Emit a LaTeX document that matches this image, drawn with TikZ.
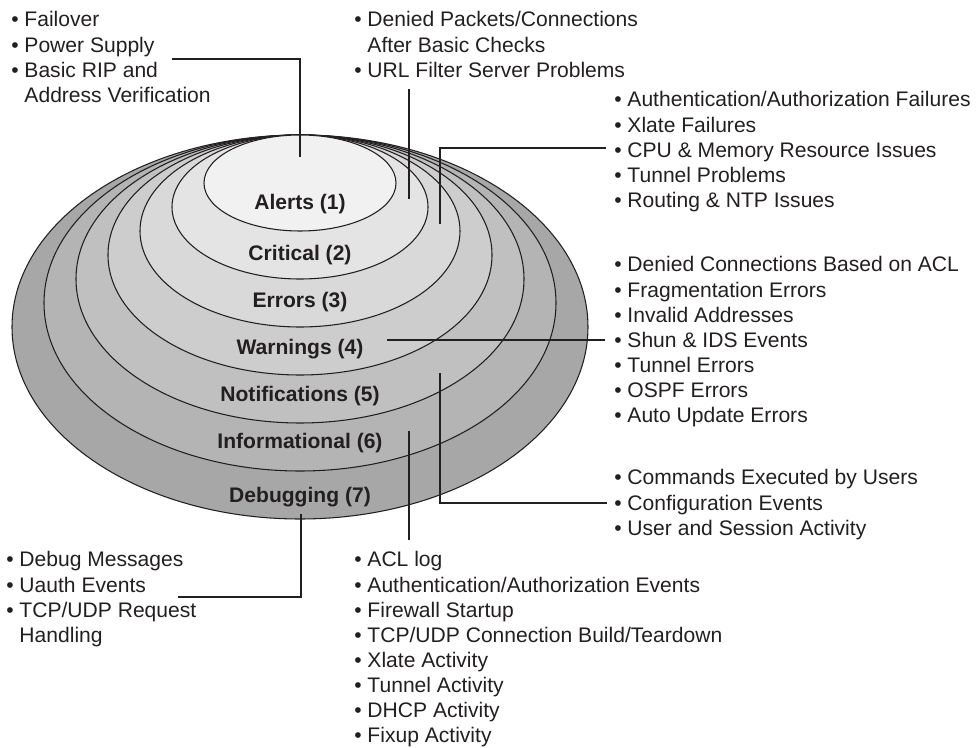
\documentclass[tikz,border=0pt]{standalone}
\usepackage{fontspec}
\setmainfont{Liberation Sans}
\definecolor{txt}{HTML}{231F20}
\definecolor{f1}{HTML}{F1F1F1}
\definecolor{f2}{HTML}{E4E4E4}
\definecolor{f3}{HTML}{D9D9D9}
\definecolor{f4}{HTML}{CDCDCD}
\definecolor{f5}{HTML}{C0C0C0}
\definecolor{f6}{HTML}{B4B4B4}
\definecolor{f7}{HTML}{A7A7A7}
\newcommand\itemfont{\fontsize{15.8}{18.8}\selectfont}
\newcommand\lvlfont{\fontsize{15.8}{18.8}\selectfont\bfseries}
\tikzset{
  item/.style={anchor=base west, inner sep=0pt, font=\itemfont, text=txt},
  lvl/.style={anchor=base, inner sep=0pt, font=\lvlfont, text=txt},
  ring/.style={draw=txt, line width=0.8pt},
  lead/.style={draw=txt, line width=1pt},
}
\begin{document}
\begin{tikzpicture}[x=0.75pt,y=-0.75pt]
\useasboundingbox (0,0) rectangle (976,748);
% rings, outer to inner
\foreach \k/\c in {6/f7,5/f6,4/f5,3/f4,2/f3,1/f2,0/f1}{
  \pgfmathsetmacro\cy{183+24*\k}
  \pgfmathsetmacro\rx{96+32*\k}
  \pgfmathsetmacro\ry{48+24*\k}
  \draw[ring, fill=\c] (300,\cy) ellipse [x radius=\rx, y radius=\ry];
}
% level labels
\node[lvl] (l1) at (300,210) {Alerts (1)};
\node[lvl] (l2) at (300,261) {Critical (2)};
\node[lvl] (l3) at (300,308) {Errors (3)};
\node[lvl] (l4) at (300,355) {Warnings (4)};
\node[lvl] (l5) at (300,402) {Notifications (5)};
\node[lvl] (l6) at (300,449) {Informational (6)};
\node[lvl] (l7) at (300,503) {Debugging (7)};
% item groups
\node[item] (gA) at (11,27) {\begin{tabular}[t]{@{}l@{}}• Failover\\• Power Supply\\• Basic RIP and\\\phantom{• }Address Verification\end{tabular}};
\node[item] (gB) at (354,27) {\begin{tabular}[t]{@{}l@{}}• Denied Packets/Connections\\\phantom{• }After Basic Checks\\• URL Filter Server Problems\end{tabular}};
\node[item] (gC) at (614,107) {\begin{tabular}[t]{@{}l@{}}• Authentication/Authorization Failures\\• Xlate Failures\\• CPU \& Memory Resource Issues\\• Tunnel Problems\\• Routing \& NTP Issues\end{tabular}};
\node[item] (gD) at (614,272) {\begin{tabular}[t]{@{}l@{}}• Denied Connections Based on ACL\\• Fragmentation Errors\\• Invalid Addresses\\• Shun \& IDS Events\\• Tunnel Errors\\• OSPF Errors\\• Auto Update Errors\end{tabular}};
\node[item] (gE) at (614,485) {\begin{tabular}[t]{@{}l@{}}• Commands Executed by Users\\• Configuration Events\\• User and Session Activity\end{tabular}};
\node[item] (gF) at (354,567) {\begin{tabular}[t]{@{}l@{}}• ACL log\\• Authentication/Authorization Events\\• Firewall Startup\\• TCP/UDP Connection Build/Teardown\\• Xlate Activity\\• Tunnel Activity\\• DHCP Activity\\• Fixup Activity\end{tabular}};
\node[item] (gG) at (6,567) {\begin{tabular}[t]{@{}l@{}}• Debug Messages\\• Uauth Events\\• TCP/UDP Request\\\phantom{• }Handling\end{tabular}};
% connector ends
\coordinate (aS) at (172,59);  \coordinate (aT) at (300,157);
\coordinate (bS) at (409,89);  \coordinate (bT) at (409,199);
\coordinate (cS) at (606,148); \coordinate (cT) at (440,224);
\coordinate (dS) at (605,340); \coordinate (dT) at (387,340);
\coordinate (eS) at (607,503); \coordinate (eT) at (440,373);
\coordinate (fS) at (409,540); \coordinate (fT) at (409,431);
\coordinate (gS) at (178,597); \coordinate (gT) at (301,514);
\draw[lead] (aS) -| (aT);
\draw[lead] (bS) -- (bT);
\draw[lead] (cS) -| (cT);
\draw[lead] (dS) -- (dT);
\draw[lead] (eS) -| (eT);
\draw[lead] (fS) -- (fT);
\draw[lead] (gS) -| (gT);
\end{tikzpicture}
\end{document}
